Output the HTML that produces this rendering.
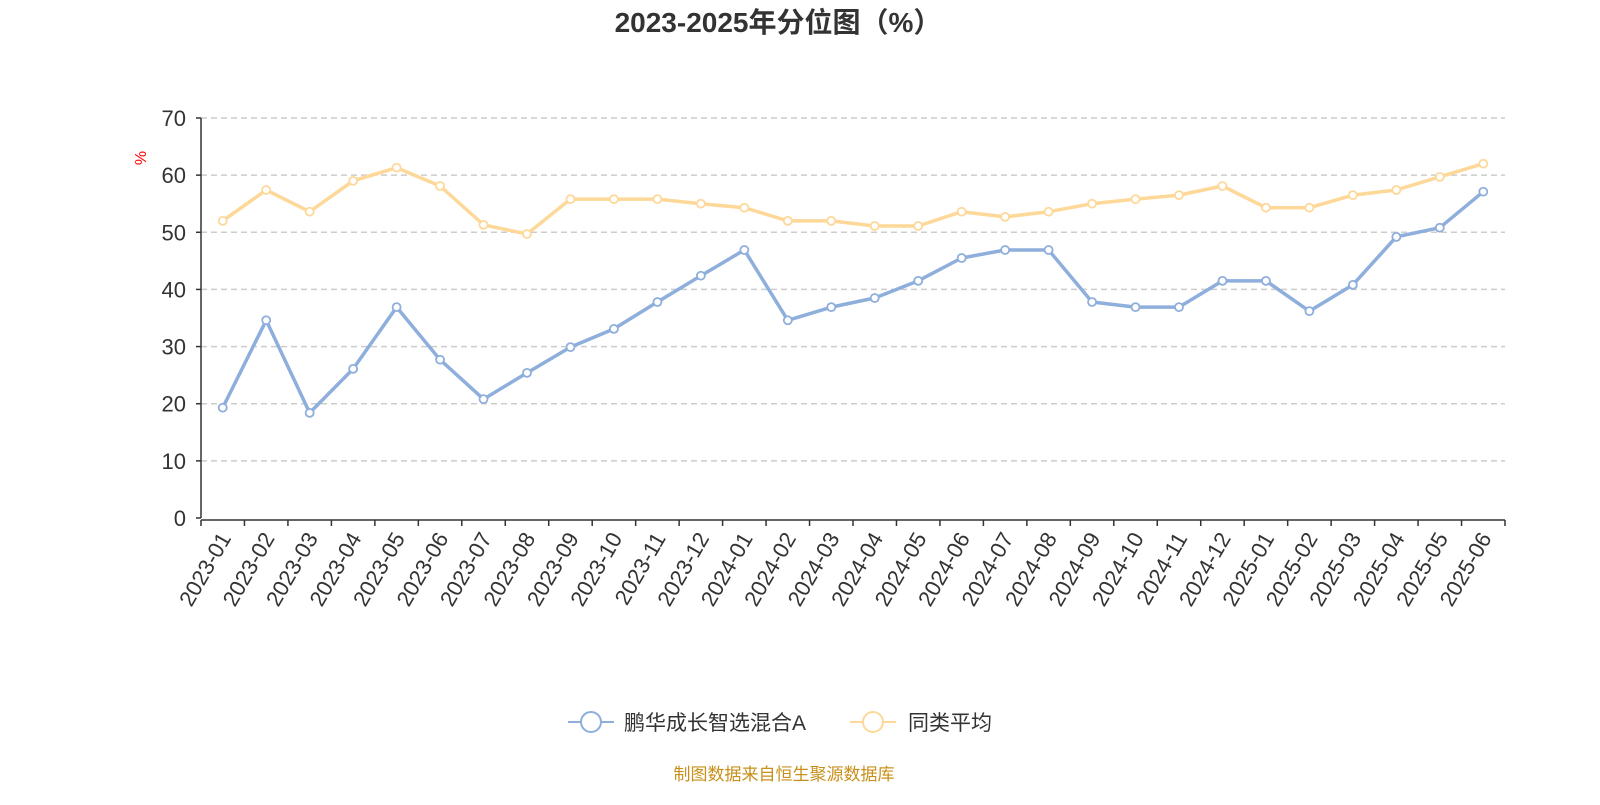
<!DOCTYPE html>
<html><head><meta charset="utf-8"><style>
body{margin:0;background:#fff;width:1600px;height:800px;overflow:hidden;font-family:"Liberation Sans","Noto Sans CJK SC",sans-serif;}
</style></head><body>
<svg id="chart" width="1600" height="800" xmlns="http://www.w3.org/2000/svg" font-family="Liberation Sans, Noto Sans CJK SC, sans-serif">
<text x="778" y="32" text-anchor="middle" font-size="28" font-weight="bold" fill="#333">2023-2025年分位图（%）</text>
<text x="0" y="0" transform="translate(146,158) rotate(-90)" text-anchor="middle" font-size="16" fill="red">%</text>
<g id="grid"></g><g id="axes"></g><g id="series"></g>
<g>
<line x1="568" y1="722" x2="614" y2="722" stroke="#8eaedc" stroke-width="2"/>
<circle cx="591" cy="722" r="10" fill="#fff" stroke="#8eaedc" stroke-width="2"/>
<text x="624" y="730" font-size="21" fill="#333">鹏华成长智选混合A</text>
<line x1="850" y1="722" x2="896" y2="722" stroke="#fdd898" stroke-width="2"/>
<circle cx="873" cy="722" r="10" fill="#fff" stroke="#fdd898" stroke-width="2"/>
<text x="908" y="730" font-size="21" fill="#333">同类平均</text>
</g>
<text x="784" y="780" text-anchor="middle" font-size="17" fill="#c8901a">制图数据来自恒生聚源数据库</text>
</svg>
<script>
const categories=["2023-01","2023-02","2023-03","2023-04","2023-05","2023-06","2023-07","2023-08","2023-09","2023-10","2023-11","2023-12","2024-01","2024-02","2024-03","2024-04","2024-05","2024-06","2024-07","2024-08","2024-09","2024-10","2024-11","2024-12","2025-01","2025-02","2025-03","2025-04","2025-05","2025-06"];
const fundValues=[19.3,34.6,18.4,26.1,36.9,27.7,20.8,25.4,29.9,33.1,37.8,42.4,46.9,34.6,36.9,38.5,41.5,45.5,46.9,46.9,37.8,36.9,36.9,41.5,41.5,36.2,40.8,49.2,50.8,57.1];
const avgValues=[52.0,57.4,53.6,59.0,61.3,58.1,51.3,49.7,55.8,55.8,55.8,55.0,54.3,52.0,52.0,51.1,51.1,53.6,52.7,53.6,55.0,55.8,56.5,58.1,54.3,54.3,56.5,57.4,59.7,62.0];
const yTicks=[0,10,20,30,40,50,60,70];
const NS="http://www.w3.org/2000/svg";
const X0=201,X1=1505,Y0=518,Y1=118,YMAX=70;
const bw=(X1-X0)/categories.length;
const xScale=i=>X0+bw*(i+0.5);
const yScale=v=>Y0-(v/YMAX)*(Y0-Y1);
function mk(tag,attrs,parent){const e=document.createElementNS(NS,tag);for(const k in attrs)e.setAttribute(k,attrs[k]);parent.appendChild(e);return e;}
const grid=document.getElementById('grid'),axes=document.getElementById('axes'),series=document.getElementById('series');
yTicks.forEach(t=>{const y=yScale(t);
if(t>0){const g=mk('line',{x1:X0,x2:X1,y1:y,y2:y,stroke:'#ccc','stroke-width':1.5,'stroke-dasharray':'6,4'},grid);

}
const tx=mk('text',{x:186,y:y+8,'text-anchor':'end','font-size':22,fill:'#333'},axes);tx.textContent=t;


mk('line',{x1:X0-5,x2:X0,y1:y,y2:y,stroke:'#333','stroke-width':1.5},axes);});
const ya=mk('line',{x1:X0,x2:X0,y1:Y1,y2:Y0,stroke:'#333','stroke-width':1.5},axes);


const xa=mk('line',{x1:X0,x2:X1,y1:Y0+2,y2:Y0+2,stroke:'#333','stroke-width':1.5},axes);


for(let i=0;i<=categories.length;i++){const x=X0+bw*i;mk('line',{x1:x,x2:x,y1:Y0+2,y2:Y0+8,stroke:'#333','stroke-width':1.5},axes);}
categories.forEach((c,i)=>{const x=xScale(i);
const t=mk('text',{x:0,y:0,transform:`translate(${x+9},${Y0+20}) rotate(-60)`,'text-anchor':'end','font-size':22,fill:'#333'},axes);t.textContent=c;

});
function drawSeries(vals,color,name){
const pts=vals.map((v,i)=>xScale(i)+','+yScale(v)).join(' ');
const pl=mk('polyline',{points:pts,fill:'none',stroke:color,'stroke-width':3.5,'stroke-linejoin':'round'},series);


vals.forEach((v,i)=>{const c=mk('circle',{cx:xScale(i),cy:yScale(v),r:4,fill:'#fff',stroke:color,'stroke-width':1.8},series);

});}
drawSeries(avgValues,'#fdd898','average');
drawSeries(fundValues,'#8eaedc','fund');
</script>
</body></html>
